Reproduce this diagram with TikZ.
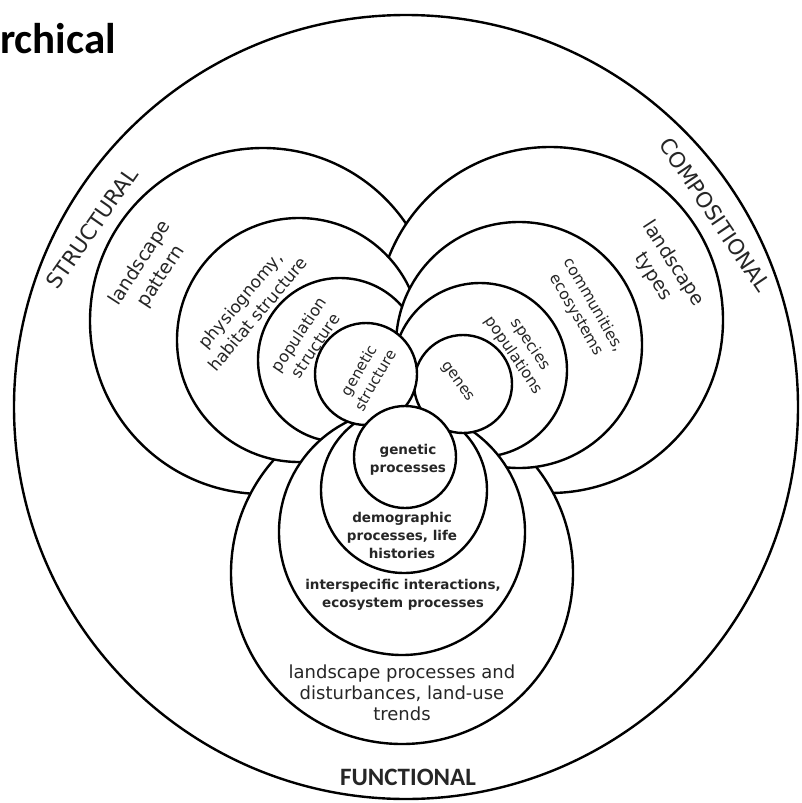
\documentclass[tikz,border=0pt]{standalone}
\usepackage{fontspec}
\setmainfont{DejaVu Sans}
\newfontfamily\headfont{Carlito}
\usetikzlibrary{positioning}

\tikzset{
  ring/.style={draw=black, line width=2.4pt, fill=white},
  rlbl/.style={align=center, inner sep=0pt, text=black!85},
  flbl/.style={align=center, inner sep=0pt, text=black!85,
    font=\bfseries\fontsize{13.5}{18}\selectfont},
  kind/.style={inner sep=0pt, text=black!85,
    font=\fontsize{21.5}{24}\selectfont}
}

\begin{document}
\begin{tikzpicture}[x=1pt,y=-1pt]
\useasboundingbox (0,0) rectangle (801,803);
% centres of the spheres
\coordinate (all) at (406,407);
\coordinate (s1) at (263,321);
\coordinate (s2) at (299,340);
\coordinate (s3) at (340,360);
\coordinate (s4) at (366,374);
\coordinate (c1) at (550,320);
\coordinate (c2) at (519,345);
\coordinate (c3) at (480,370);
\coordinate (c4) at (463,384);
\coordinate (f1) at (402,573);
\coordinate (f2) at (402,532);
\coordinate (f3) at (404,490);
\coordinate (f4) at (405,457);

\draw[ring] (all) circle (392);
% interlocked spheres, back to front
\draw[ring] (s1) circle (173);
\draw[ring] (c1) circle (173);
\draw[ring] (f1) circle (171);
\draw[ring] (s2) circle (122);
\draw[ring] (s3) circle (82);
\draw[ring] (c2) circle (123);
\draw[ring] (c3) circle (87);
\draw[ring] (f2) circle (123);
\draw[ring] (f3) circle (83);
\draw[ring] (c4) circle (49);
\draw[ring] (s4) circle (51);
\draw[ring] (f4) circle (51);

% structural
\node[kind, rotate=55] (struct) at (92,228) {STRUCTURAL};
\node[rlbl, rotate=57, font=\fontsize{19}{25}\selectfont] (lpat) at (151,270) {landscape\\pattern};
\node[rlbl, rotate=50, font=\fontsize{17}{22}\selectfont] (phys) at (249,307) {physiognomy,\\habitat structure};
\node[rlbl, rotate=56, font=\fontsize{16}{20}\selectfont] (popst) at (307,340) {population\\structure};
\node[rlbl, rotate=60, font=\fontsize{15}{19}\selectfont] (genst) at (367,375) {genetic\\structure};
% compositional
\node[kind, rotate=-56] (comp) at (715,215) {COMPOSITIONAL};
\node[rlbl, rotate=-57, font=\fontsize{19}{24}\selectfont] (ltyp) at (663,270) {landscape\\types};
\node[rlbl, rotate=-60, font=\fontsize{15.5}{20}\selectfont] (comm) at (585,310) {communities,\\ecosystems};
\node[rlbl, rotate=-56, font=\fontsize{15.5}{20}\selectfont] (spec) at (522,350) {species\\populations};
\node[rlbl, rotate=-54, font=\fontsize{15}{18}\selectfont] (genes) at (457,382) {genes};
% functional
\node[flbl] (gproc) at (408,460) {genetic\\processes};
\node[flbl] (demo) at (402,535) {demographic\\processes, life\\histories};
\node[flbl] (inter) at (403,595) {interspecific interactions,\\ecosystem processes};
\node[rlbl, font=\fontsize{18}{21}\selectfont] (lproc) at (402,693) {landscape processes and\\disturbances, land-use\\trends};
\node[inner sep=0pt, text=black!85, font=\headfont\bfseries\fontsize{25}{28}\selectfont] (func) at (408,777) {FUNCTIONAL};

\node[anchor=base west, inner sep=0pt, font=\headfont\bfseries\fontsize{43}{46}\selectfont] (title) at (0,53) {rchical};
\end{tikzpicture}
\end{document}
